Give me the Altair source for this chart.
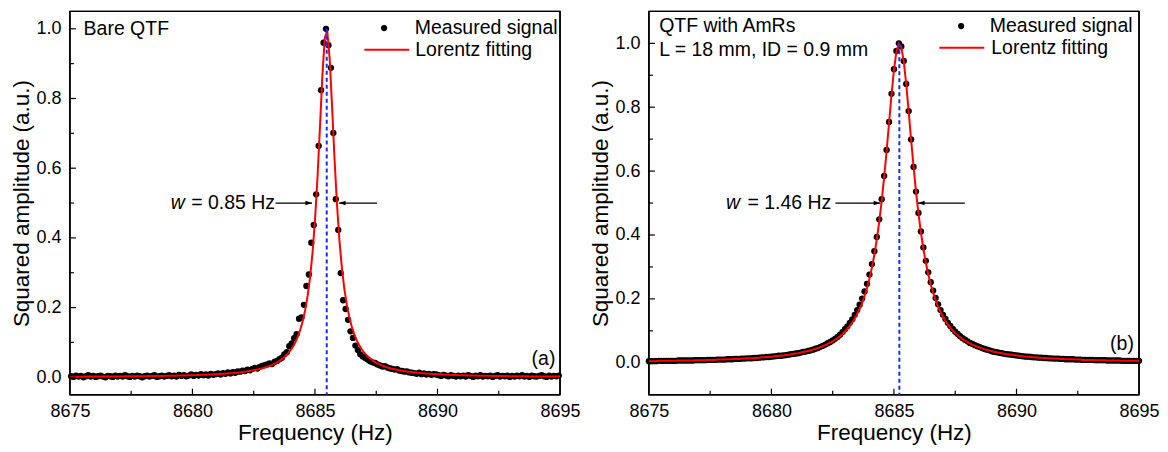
import altair as alt
import pandas as pd

FONT = "Liberation Sans"

# ---------------- data ----------------
# frequency sweeps (Hz): start and step of the sampling grid
A_MEAS_START, A_FIT_START, B_START, STEP = 8675.05, 8675.0, 8675.0, 0.1

# panel (a) Bare QTF - measured squared amplitude (200 samples)
a_meas = [
    .003, .001, .005, .002, .004, .000, .003, .006, .002, .004,
    .001, .003, .005, .002, .000, .004, .003, .001, .005, .002,
    .004, .002, .006, .003, .001, .004, .002, .005, .003, .000,
    .003, .005, .002, .004, .006, .001, .003, .005, .002, .004,
    .006, .003, .005, .002, .007, .004, .006, .003, .005, .008,
    .004, .007, .005, .009, .006, .008, .005, .010, .007, .009,
    .011, .008, .012, .010, .014, .011, .015, .013, .017, .016,
    .019, .018, .022, .020, .024, .027, .025, .030, .033, .035,
    .037, .040, .038, .044, .047, .052, .056, .066, .072, .089,
    .097, .112, .124, .168, .172, .208, .262, .295, .386, .437,
    .525, .664, .824, .960, 1.000, .953, .888, .701, .511, .423,
    .299, .221, .196, .165, .132, .113, .091, .078, .066, .060,
    .055, .051, .046, .043, .041, .037, .034, .031, .032, .028,
    .026, .024, .022, .023, .019, .018, .016, .017, .014, .013,
    .012, .010, .013, .009, .011, .008, .010, .007, .009, .008,
    .006, .004, .007, .005, .003, .006, .004, .002, .005, .003,
    .005, .002, .006, .004, .001, .005, .003, .006, .002, .004,
    .003, .005, .001, .004, .006, .002, .004, .003, .005, .001,
    .004, .002, .005, .003, .006, .002, .004, .001, .005, .003,
    .002, .004, .006, .003, .001, .005, .002, .004, .003, .005,
]
# panel (a) Lorentz fitting curve (201 samples)
a_fit = [
    .0016, .0017, .0017, .0017, .0018, .0018, .0019, .0019, .0019, .0020,
    .0020, .0021, .0021, .0021, .0022, .0022, .0023, .0023, .0024, .0025,
    .0025, .0026, .0026, .0027, .0028, .0028, .0029, .0030, .0031, .0031,
    .0032, .0033, .0034, .0035, .0036, .0037, .0038, .0039, .0040, .0042,
    .0043, .0044, .0046, .0047, .0049, .0050, .0052, .0054, .0056, .0058,
    .0060, .0062, .0065, .0067, .0070, .0073, .0076, .0079, .0082, .0086,
    .0090, .0094, .0098, .0103, .0108, .0113, .0119, .0126, .0132, .0140,
    .0148, .0157, .0166, .0177, .0188, .0201, .0215, .0230, .0247, .0266,
    .0288, .0312, .0339, .0369, .0405, .0445, .0491, .0545, .0608, .0683,
    .0771, .0878, .1007, .1166, .1363, .1611, .1927, .2335, .2869, .3573,
    .4499, .5689, .7125, .8621, .9736, .9950, .9145, .7735, .6239, .4942,
    .3914, .3128, .2532, .2077, .1728, .1455, .1239, .1067, .0927, .0812,
    .0716, .0637, .0569, .0512, .0463, .0420, .0383, .0351, .0322, .0297,
    .0274, .0254, .0237, .0221, .0206, .0193, .0181, .0170, .0160, .0151,
    .0143, .0135, .0128, .0122, .0116, .0110, .0105, .0100, .0095, .0091,
    .0087, .0084, .0080, .0077, .0074, .0071, .0069, .0066, .0063, .0061,
    .0059, .0057, .0055, .0053, .0051, .0050, .0048, .0046, .0045, .0044,
    .0042, .0041, .0040, .0039, .0038, .0036, .0035, .0034, .0034, .0033,
    .0032, .0031, .0030, .0029, .0029, .0028, .0027, .0026, .0026, .0025,
    .0025, .0024, .0023, .0023, .0022, .0022, .0021, .0021, .0020, .0020,
    .0020,
]
# panel (b) QTF with AmRs - measured (201 samples)
b_meas = [
    .005, .005, .005, .005, .006, .006, .006, .006, .006, .006,
    .006, .006, .007, .007, .007, .007, .007, .007, .007, .008,
    .008, .008, .008, .008, .009, .009, .009, .009, .010, .010,
    .010, .010, .011, .011, .011, .012, .012, .012, .013, .013,
    .014, .014, .014, .015, .015, .016, .017, .017, .018, .018,
    .019, .020, .021, .022, .022, .023, .024, .025, .027, .028,
    .029, .030, .032, .034, .035, .037, .039, .041, .044, .046,
    .050, .053, .057, .061, .065, .070, .075, .081, .088, .096,
    .105, .114, .125, .136, .150, .165, .182, .201, .223, .247,
    .276, .309, .349, .394, .449, .512, .585, .666, .754, .842,
    .919, .976, 1.000, .990, .945, .873, .788, .699, .613, .536,
    .469, .411, .361, .319, .283, .252, .226, .203, .183, .165,
    .150, .137, .125, .115, .106, .097, .090, .083, .077, .072,
    .067, .062, .059, .055, .052, .049, .046, .043, .041, .039,
    .036, .034, .033, .031, .030, .028, .027, .026, .025, .024,
    .023, .022, .021, .020, .019, .019, .018, .017, .017, .016,
    .016, .015, .015, .014, .014, .013, .013, .013, .012, .012,
    .011, .011, .011, .011, .010, .010, .010, .009, .009, .009,
    .009, .009, .008, .008, .008, .008, .008, .007, .007, .007,
    .007, .007, .007, .006, .006, .006, .006, .006, .006, .006,
    .006,
]
# panel (b) Lorentz fitting curve (201 samples)
b_fit = [
    .005, .005, .005, .005, .006, .006, .006, .006, .006, .006,
    .006, .006, .007, .007, .007, .007, .007, .007, .007, .008,
    .008, .008, .008, .008, .009, .009, .009, .009, .010, .010,
    .010, .010, .011, .011, .011, .012, .012, .012, .013, .013,
    .014, .014, .014, .015, .015, .016, .017, .017, .018, .018,
    .019, .020, .021, .022, .022, .023, .024, .025, .027, .028,
    .029, .030, .032, .034, .035, .037, .039, .041, .044, .046,
    .049, .052, .055, .059, .063, .067, .072, .077, .083, .090,
    .098, .106, .116, .126, .139, .153, .169, .187, .209, .234,
    .264, .298, .339, .386, .442, .507, .581, .663, .751, .839,
    .917, .974, .999, .988, .943, .872, .787, .698, .613, .535,
    .467, .408, .357, .314, .277, .245, .219, .196, .176, .159,
    .144, .131, .120, .110, .101, .093, .086, .080, .074, .069,
    .065, .060, .057, .053, .050, .047, .045, .042, .040, .038,
    .036, .034, .033, .031, .030, .028, .027, .026, .025, .024,
    .023, .022, .021, .020, .019, .019, .018, .017, .017, .016,
    .016, .015, .015, .014, .014, .013, .013, .013, .012, .012,
    .011, .011, .011, .011, .010, .010, .010, .009, .009, .009,
    .009, .009, .008, .008, .008, .008, .008, .007, .007, .007,
    .007, .007, .007, .006, .006, .006, .006, .006, .006, .006,
    .006,
]

x_tick_labels = [8675, 8680, 8685, 8690, 8695]
x_minor = [8677.5, 8682.5, 8687.5, 8692.5]
y_tick_labels = [0.0, 0.2, 0.4, 0.6, 0.8, 1.0]
y_minor = [0.1, 0.3, 0.5, 0.7, 0.9]

x_range = [8675, 8695]
a_center, b_center = 8685.48, 8685.22
a_ydom, b_ydom = [-0.05, 1.05], [-0.1, 1.1]

a_texts = [
    {"x": 8675.56, "y": 1.0, "t": "Bare QTF", "align": "left", "style": "normal"},
    {"x": 8694.81, "y": 0.053, "t": "(a)", "align": "right", "style": "normal"},
    {"x": 8683.37, "y": 0.5, "t": "= 0.85 Hz", "align": "right", "style": "normal"},
    {"x": 8679.69, "y": 0.5, "t": "w", "align": "right", "style": "italic"},
]
b_texts = [
    {"x": 8675.42, "y": 1.055, "t": "QTF with AmRs", "align": "left", "style": "normal"},
    {"x": 8675.42, "y": 0.979, "t": "L = 18 mm, ID = 0.9 mm", "align": "left", "style": "normal"},
    {"x": 8694.79, "y": 0.058, "t": "(b)", "align": "right", "style": "normal"},
    {"x": 8682.44, "y": 0.5, "t": "= 1.46 Hz", "align": "right", "style": "normal"},
    {"x": 8678.72, "y": 0.5, "t": "w", "align": "right", "style": "italic"},
]
# width arrows: tail -> tip
a_arrows = [(8683.39, 8684.88, 0.5), (8687.53, 8685.98, 0.5)]
b_arrows = [(8682.61, 8684.44, 0.5), (8687.89, 8685.98, 0.5)]

W, H = 491, 384
LBL, TTL, ANN = 18, 22.5, 19.5


def panel(meas, meas_start, fit, fit_start, ydom, center, texts, arrows, leg):
    mdf = pd.DataFrame({"f": [round(meas_start + STEP * i, 2) for i in range(len(meas))],
                        "y": meas, "s": "Measured signal"})
    fdf = pd.DataFrame({"f": [round(fit_start + STEP * i, 2) for i in range(len(fit))],
                        "y": fit, "s": "Lorentz fitting"})
    xs = alt.Scale(domain=x_range, nice=False, zero=False)
    ys = alt.Scale(domain=ydom, nice=False, zero=False)
    common = dict(domain=False, ticks=False, grid=False, labelFlush=False,
                  labelOverlap=False, labelFontSize=LBL, titleFontSize=TTL,
                  labelFont=FONT, titleFont=FONT, labelColor="black",
                  titleColor="black", titleFontWeight="normal")
    xax = alt.Axis(values=x_tick_labels, format="d", title="Frequency (Hz)",
                   labelPadding=8, titlePadding=1, **common)
    yax = alt.Axis(values=y_tick_labels, format=".1f", title="Squared amplitude (a.u.)",
                   labelPadding=9, titlePadding=2, **common)

    def X(f):
        return alt.X(f, type="quantitative", scale=xs, axis=xax)

    def Y(f):
        return alt.Y(f, type="quantitative", scale=ys, axis=yax)

    # plot frame along the scale limits
    vdf = pd.DataFrame({"x": x_range, "y0": [ydom[0]] * 2, "y1": [ydom[1]] * 2})
    hdf = pd.DataFrame({"y": ydom, "x0": [x_range[0]] * 2, "x1": [x_range[1]] * 2})
    fv = alt.Chart(vdf).mark_rule(color="#000000", strokeWidth=1.5, opacity=1).encode(
        x=X("x"), y=Y("y0"), y2=alt.Y2("y1"))
    fh = alt.Chart(hdf).mark_rule(color="#000000", strokeWidth=1.5, opacity=1).encode(
        y=Y("y"), x=X("x0"), x2=alt.X2("x1"))

    pts = alt.Chart(mdf).mark_point(filled=True, size=40, opacity=1).encode(
        x=X("f"), y=Y("y"),
        color=alt.Color("s:N", scale=alt.Scale(domain=["Measured signal"], range=["black"]),
                        legend=alt.Legend(orient="none", legendX=leg[0], legendY=leg[1],
                                          title=None, symbolType="circle", symbolSize=38,
                                          labelOffset=leg[2], padding=0, offset=0,
                                          labelFontSize=ANN, labelFont=FONT,
                                          labelColor="black", labelLimit=400)))
    line = alt.Chart(fdf).mark_line(strokeWidth=2).encode(
        x=X("f"), y=Y("y"),
        color=alt.Color("s:N", scale=alt.Scale(domain=["Lorentz fitting"], range=["#ff0000"]),
                        legend=alt.Legend(orient="none", legendX=leg[3], legendY=leg[4],
                                          title=None, symbolType="stroke", symbolSize=2025,
                                          symbolStrokeWidth=2, labelOffset=leg[5],
                                          padding=0, offset=0,
                                          labelFontSize=ANN, labelFont=FONT,
                                          labelColor="black", labelLimit=400)))
    dash = alt.Chart(pd.DataFrame({"f": [center], "top": [1.0], "bot": [ydom[0]]})).mark_rule(
        color="#1030ff", strokeWidth=2, strokeDash=[4, 3]).encode(
        x=X("f"), y=Y("top"), y2=alt.Y2("bot"))

    xmaj = alt.Chart(pd.DataFrame({"v": x_tick_labels[1:-1]})).mark_rule(color="black", strokeWidth=1.2).encode(
        x=X("v"), y=alt.value(H), y2=alt.value(H - 6))
    xmin = alt.Chart(pd.DataFrame({"v": x_minor})).mark_rule(color="black", strokeWidth=1.2).encode(
        x=X("v"), y=alt.value(H), y2=alt.value(H - 4))
    ymaj = alt.Chart(pd.DataFrame({"v": y_tick_labels})).mark_rule(color="black", strokeWidth=1.2).encode(
        y=Y("v"), x=alt.value(0), x2=alt.value(6))
    ymin = alt.Chart(pd.DataFrame({"v": y_minor})).mark_rule(color="black", strokeWidth=1.2).encode(
        y=Y("v"), x=alt.value(0), x2=alt.value(4))

    adf = pd.DataFrame({"x1": [a[0] for a in arrows], "x2": [a[1] for a in arrows],
                        "y": [a[2] for a in arrows]})
    arr = alt.Chart(adf).mark_rule(color="black", strokeWidth=1.2).encode(
        x=X("x1"), x2=alt.X2("x2"), y=Y("y"))
    headR = alt.Chart(adf.iloc[[0]]).mark_point(
        shape="M0,0L-2.4,-0.8L-2.4,0.8Z", filled=True, size=30, color="black", opacity=1).encode(
        x=X("x2"), y=Y("y"))
    headL = alt.Chart(adf.iloc[[1]]).mark_point(
        shape="M0,0L2.4,-0.8L2.4,0.8Z", filled=True, size=30, color="black", opacity=1).encode(
        x=X("x2"), y=Y("y"))

    tdf = pd.DataFrame(texts)
    txt_layers = []
    for al in ["left", "right"]:
        for st in ["normal", "italic"]:
            sub = tdf[(tdf["align"] == al) & (tdf["style"] == st)]
            if len(sub):
                txt_layers.append(alt.Chart(sub).mark_text(
                    align=al, baseline="middle", fontSize=ANN, font=FONT,
                    fontStyle=st, color="black").encode(x=X("x"), y=Y("y"), text="t:N"))

    return alt.layer(fv, fh, pts, line, dash, xmaj, xmin, ymaj, ymin, arr, headR, headL,
                     *txt_layers).resolve_scale(color="independent").properties(
        width=W, height=H, view=alt.ViewBackground(stroke="black", strokeWidth=1.5))


left = panel(a_meas, A_MEAS_START, a_fit, A_FIT_START, a_ydom, a_center, a_texts, a_arrows,
             (305, 7, 21, 294, 15, 5))
right = panel(b_meas, B_START, b_fit, B_START, b_ydom, b_center, b_texts, b_arrows,
              (303, 5, 19, 290, 13, 6))

chart = alt.hconcat(left, right, spacing=8).properties(
    padding={"left": 2, "top": 1, "right": 0, "bottom": 0},
    background="white"
).configure_view(stroke="black", strokeWidth=1.5).configure_axis(
    labelFont=FONT, titleFont=FONT, labelColor="black", titleColor="black",
    titleFontWeight="normal"
)

chart.save("out.html", embed_options={"renderer": "svg", "actions": False})
